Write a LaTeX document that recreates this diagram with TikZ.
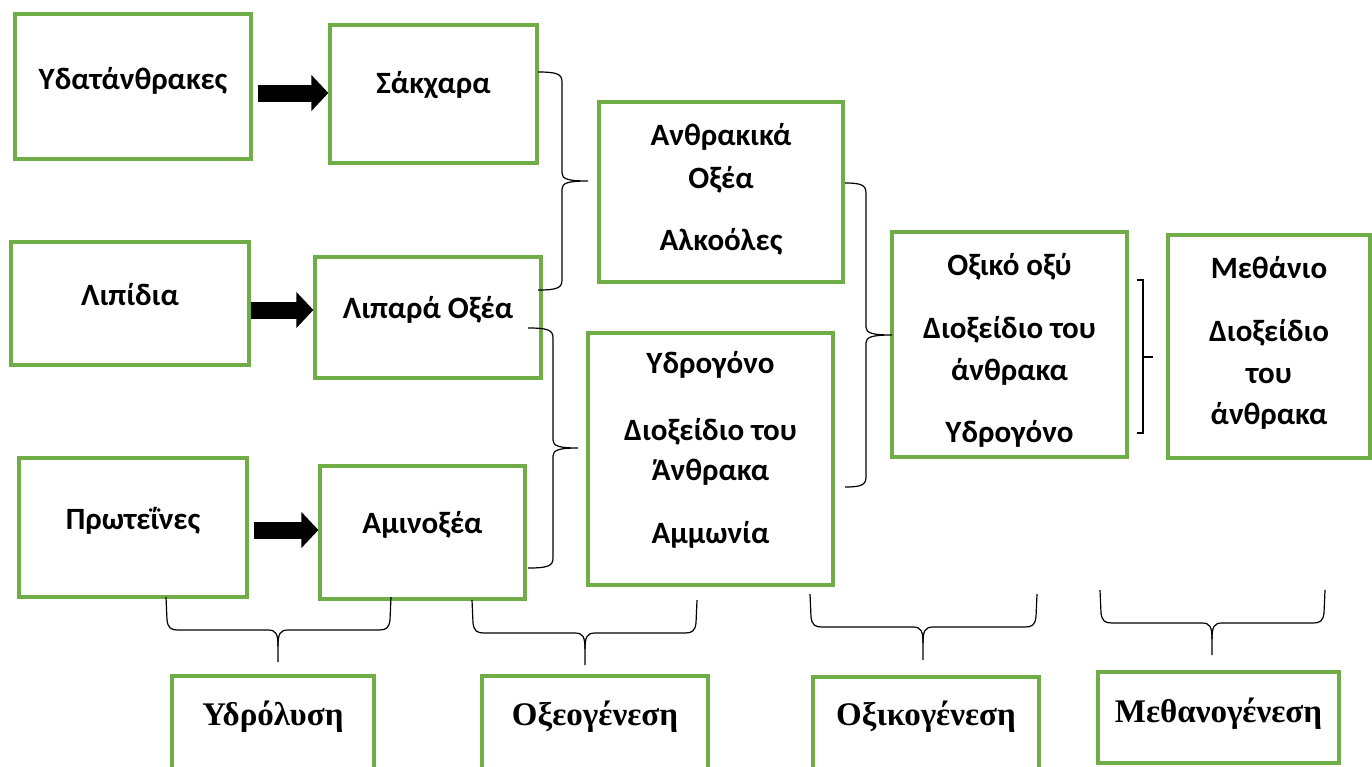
\documentclass[tikz,border=0pt]{standalone}
\usepackage{fontspec}
\setmainfont{Carlito}
\newfontfamily\trfont{Liberation Serif}
\usetikzlibrary{arrows.meta}
\definecolor{boxgreen}{RGB}{112,173,71}
% right-pointing brace: end x, stem x, tip x, top y, tip y, bottom y
\newcommand\Vbrc[6]{%
  \draw[brl] (#1,#4) .. controls (#2-5,#4) and (#2,#4+2) .. (#2,#4+10)
    -- (#2,#5-8) .. controls (#2,#5-2) and (#2+6,#5) .. (#3,#5)
    .. controls (#2+6,#5) and (#2,#5+2) .. (#2,#5+8)
    -- (#2,#6-10) .. controls (#2,#6-2) and (#2-5,#6) .. (#1,#6);}
% downward brace: left x, right x, tip x, top y, bar y, tip y
\newcommand\Hbrc[6]{%
  \draw[brl] (#1,#4) -- (#1+1,#5-10) .. controls (#1+2,#5-2) and (#1+5,#5) .. (#1+12,#5)
    -- (#3-10,#5) .. controls (#3-2,#5) and (#3,#5+4) .. (#3,#5+16) -- (#3,#6);
  \draw[brl] (#3,#5+16) .. controls (#3,#5+4) and (#3+2,#5) .. (#3+10,#5)
    -- (#2-12,#5) .. controls (#2-5,#5) and (#2-2,#5-2) .. (#2-1,#5-10) -- (#2,#4);}
\begin{document}
\begin{tikzpicture}[x=1pt,y=-1pt,
  box/.style={draw=boxgreen,line width=3.2pt,minimum width=#1,inner sep=0pt},
  txt/.style={font=\bfseries\fontsize{31}{36}\selectfont,anchor=base},
  stage/.style={font=\trfont\bfseries\fontsize{33}{38}\selectfont,anchor=base},
  blk/.style={line width=17pt,-{Triangle[length=17pt,width=35pt]}},
  brl/.style={draw=black,line width=1.2pt}]
\useasboundingbox (0,0) rectangle (1372,766);

% substrates
\node[box=236pt,minimum height=145pt] (ydat) at (133,86.5) {};
\node[box=238pt,minimum height=123pt] (lip)  at (130,303.5) {};
\node[box=228pt,minimum height=139pt] (prot) at (133,527.5) {};
\node[txt] (ydatT) at (133,89) {Υδατάνθρακες};
\node[txt] (lipT)  at (130,305) {Λιπίδια};
\node[txt] (protT) at (133,529) {Πρωτεΐνες};

% hydrolysis products
\node[box=207pt,minimum height=138pt] (sak)   at (433.5,94) {};
\node[box=226pt,minimum height=121pt] (lipox) at (428,317.5) {};
\node[box=205pt,minimum height=133pt] (amin)  at (422.5,532.5) {};
\node[txt] (sakT)   at (433.5,93) {Σάκχαρα};
\node[txt] (lipoxT) at (428,318) {Λιπαρά Οξέα};
\node[txt] (aminT)  at (422.5,533) {Αμινοξέα};

% acidogenesis products
\node[box=244pt,minimum height=180pt] (anth) at (721,192) {};
\node[txt] at (721,145) {Ανθρακικά};
\node[txt] at (721,188) {Οξέα};
\node[txt] at (721,250) {Αλκοόλες};
\node[box=245pt,minimum height=252pt] (ydro) at (710.5,459) {};
\node[txt] at (710.5,373) {Υδρογόνο};
\node[txt] at (710.5,440) {Διοξείδιο του};
\node[txt] at (710.5,480) {Άνθρακα};
\node[txt] at (710.5,543) {Αμμωνία};

% acetogenesis products
\node[box=235pt,minimum height=225pt] (oxik) at (1009.5,344.5) {};
\node[txt] at (1009.5,275) {Οξικό οξύ};
\node[txt] at (1009.5,338) {Διοξείδιο του};
\node[txt] at (1009.5,380) {άνθρακα};
\node[txt] at (1009.5,442) {Υδρογόνο};

% methanogenesis products
\node[box=202pt,minimum height=223pt] (meth) at (1269,346.5) {};
\node[txt] at (1269,278) {Μεθάνιο};
\node[txt] at (1269,341) {Διοξείδιο};
\node[txt] at (1269,383) {του};
\node[txt] at (1269,424) {άνθρακα};

% stage labels
\node[box=202pt,minimum height=94pt] (ydrol) at (273,723) {};
\node[box=226pt,minimum height=94pt] (oxeo)  at (595,723) {};
\node[box=226pt,minimum height=93pt] (oxikg) at (926,723.5) {};
\node[box=241pt,minimum height=91pt] (methg) at (1218.5,717.5) {};
\node[stage] at (273,725) {Υδρόλυση};
\node[stage] at (595,725) {Οξεογένεση};
\node[stage] at (926,725) {Οξικογένεση};
\node[stage] at (1218.5,722) {Μεθανογένεση};

% hydrolysis arrows
\draw[blk] ([xshift=5pt]ydat.east |- 0,93) -- (sak.west |- 0,93);
\draw[blk] (lip.east |- 0,310) -- (lipox.west |- 0,310);
\draw[blk] ([xshift=5pt]prot.east |- 0,530) -- (amin.west |- 0,530);

% grouping braces between columns
\Vbrc{538}{562}{588}{72}{181}{290}
\Vbrc{528}{553}{578}{328}{448}{568}
\Vbrc{845}{866}{892}{183}{335}{487}
\draw[brl] (1137,280) -- (1143,280) -- (1143,433) -- (1137,433);
\draw[line width=2.2pt] (1143,357) -- (1153,357);

% braces over the stage labels
\Hbrc{166}{391}{278}{597}{630}{662}
\Hbrc{472}{697}{585}{600}{633}{665}
\Hbrc{810}{1037}{923}{594}{627}{660}
\Hbrc{1100}{1325}{1212}{590}{623}{655}
\end{tikzpicture}
\end{document}
